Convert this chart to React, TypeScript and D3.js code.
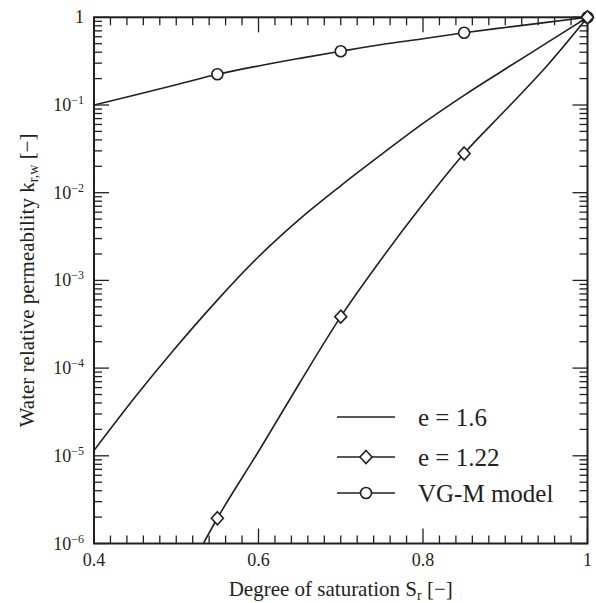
import React, { useRef, useEffect } from 'react';
import * as d3 from 'd3';

// degree of saturation S_r and read-off k_r,w values
const satE160 = [0.4, 0.45, 0.5, 0.55, 0.6, 0.65, 0.7, 0.75, 0.8, 0.85, 0.9, 0.95, 1.0];
const kE160 = [1.15e-5, 4.68e-5, 1.74e-4, 5.96e-4, 1.86e-3, 5.0e-3, 1.2e-2, 2.75e-2, 6.17e-2, 0.129, 0.257, 0.507, 1.0];

const satE122 = [0.53, 0.55, 0.6, 0.65, 0.7, 0.75, 0.8, 0.85, 0.9, 0.95, 1.0];
const kE122 = [8.9e-7, 1.94e-6, 1.12e-5, 6.76e-5, 3.86e-4, 1.78e-3, 7.41e-3, 0.028, 0.087, 0.275, 1.0];
const markE122 = [0.55, 0.7, 0.85, 1.0];

const satVGM = [0.4, 0.45, 0.5, 0.55, 0.6, 0.65, 0.7, 0.75, 0.8, 0.85, 0.9, 0.95, 1.0];
const kVGM = [0.1, 0.13, 0.17, 0.224, 0.279, 0.34, 0.41, 0.49, 0.57, 0.667, 0.766, 0.875, 1.0];
const markVGM = [0.55, 0.7, 0.85, 1.0];

const xTickLabels = ['0.4', '0.6', '0.8', '1'];
const yDecades = [-6, -5, -4, -3, -2, -1, 0];
const legendLabels = ['e = 1.6', 'e = 1.22', 'VG-M model'];

const FONT = '"Liberation Serif", "Times New Roman", serif';

const App = () => {
    const svgRef = useRef<SVGSVGElement>(null);

    useEffect(() => {
        const svg = d3.select(svgRef.current);
        svg.selectAll('*').remove();

        const left = 94, right = 587.5, top = 17.3, bottom = 543.5;
        const x = d3.scaleLinear().domain([0.4, 1]).range([left, right]);
        const y = d3.scaleLog().domain([1e-6, 1]).range([bottom, top]);

        svg.append('clipPath').attr('id', 'plotClip')
            .append('rect')
            .attr('x', left).attr('y', top)
            .attr('width', right - left).attr('height', bottom - top);

        // ticks, pointing inward on all four sides
        const ticks = svg.append('g').attr('stroke', '#231f20').attr('stroke-width', 1.3);
        d3.range(0, 31).forEach(i => {
            const v = 0.4 + i * 0.02;
            const len = i % 10 === 0 ? 15 : 8;
            ticks.append('line').attr('x1', x(v)).attr('x2', x(v)).attr('y1', bottom).attr('y2', bottom - len);
            ticks.append('line').attr('x1', x(v)).attr('x2', x(v)).attr('y1', top).attr('y2', top + len);
        });
        yDecades.forEach(d => {
            const base = Math.pow(10, d);
            ticks.append('line').attr('x1', left).attr('x2', left + 15).attr('y1', y(base)).attr('y2', y(base));
            ticks.append('line').attr('x1', right).attr('x2', right - 15).attr('y1', y(base)).attr('y2', y(base));
            if (d < 0) {
                d3.range(2, 10).forEach(k => {
                    const v = k * base;
                    ticks.append('line').attr('x1', left).attr('x2', left + 8).attr('y1', y(v)).attr('y2', y(v));
                    ticks.append('line').attr('x1', right).attr('x2', right - 8).attr('y1', y(v)).attr('y2', y(v));
                });
            }
        });

        // frame
        svg.append('rect')
            .attr('x', left).attr('y', top)
            .attr('width', right - left).attr('height', bottom - top)
            .attr('fill', 'none').attr('stroke', '#231f20').attr('stroke-width', 2);

        // tick labels
        xTickLabels.forEach(t => {
            svg.append('text')
                .attr('x', x(+t)).attr('y', 566)
                .attr('text-anchor', 'middle')
                .attr('font-family', FONT).attr('font-size', 18).attr('fill', '#231f20')
                .text(t);
        });
        yDecades.forEach(d => {
            const t = svg.append('text')
                .attr('x', 84).attr('y', y(Math.pow(10, d)) + 6)
                .attr('text-anchor', 'end')
                .attr('font-family', FONT).attr('font-size', 18).attr('fill', '#231f20');
            if (d === 0) {
                t.text('1');
            } else {
                t.append('tspan').text('10');
                t.append('tspan').attr('dy', -7).attr('font-size', 12).text(`\u2212${-d}`);
            }
        });

        // axis titles
        const xt = svg.append('text')
            .attr('x', (left + right) / 2).attr('y', 596)
            .attr('text-anchor', 'middle')
            .attr('font-family', FONT).attr('font-size', 21).attr('fill', '#231f20');
        xt.append('tspan').text('Degree of saturation S');
        xt.append('tspan').attr('font-size', 14).attr('dy', 4).text('r');
        xt.append('tspan').attr('dy', -4).text(' [\u2212]');

        const yt = svg.append('text')
            .attr('transform', `translate(34,${(top + bottom) / 2}) rotate(-90)`)
            .attr('text-anchor', 'middle')
            .attr('font-family', FONT).attr('font-size', 21).attr('fill', '#231f20');
        yt.append('tspan').text('Water relative permeability k');
        yt.append('tspan').attr('font-size', 14).attr('dy', 4).text('r,w');
        yt.append('tspan').attr('dy', -4).text(' [\u2212]');

        // curves
        const line = d3.line<[number, number]>()
            .x(d => x(d[0]))
            .y(d => y(d[1]))
            .curve(d3.curveMonotoneX);

        const curves = svg.append('g').attr('clip-path', 'url(#plotClip)')
            .attr('fill', 'none').attr('stroke', '#231f20').attr('stroke-width', 1.6);
        curves.append('path').attr('d', line(satE160.map((s, i) => [s, kE160[i]] as [number, number])));
        curves.append('path').attr('d', line(satE122.map((s, i) => [s, kE122[i]] as [number, number])));
        curves.append('path').attr('d', line(satVGM.map((s, i) => [s, kVGM[i]] as [number, number])));

        const diamond = (cx: number, cy: number, g: any) => {
            const p = d3.path();
            p.moveTo(cx, cy - 6.5);
            p.lineTo(cx + 6, cy);
            p.lineTo(cx, cy + 6.5);
            p.lineTo(cx - 6, cy);
            p.closePath();
            g.append('path').attr('d', p.toString())
                .attr('fill', 'white').attr('stroke', '#231f20').attr('stroke-width', 1.6);
        };
        const circle = (cx: number, cy: number, g: any) => {
            g.append('circle').attr('cx', cx).attr('cy', cy).attr('r', 5.5)
                .attr('fill', 'white').attr('stroke', '#231f20').attr('stroke-width', 1.6);
        };

        const marks = svg.append('g');
        const vgmLookup = new Map(satVGM.map((s, i) => [s, kVGM[i]]));
        const e122Lookup = new Map(satE122.map((s, i) => [s, kE122[i]]));
        markVGM.forEach(s => circle(x(s), y(vgmLookup.get(s)!), marks));
        markE122.forEach(s => diamond(x(s), y(e122Lookup.get(s)!), marks));

        // legend
        const legend = svg.append('g');
        const rows = [417, 457, 493];
        legendLabels.forEach((label, i) => {
            const ly = rows[i];
            legend.append('line').attr('x1', 337).attr('x2', 395).attr('y1', ly).attr('y2', ly)
                .attr('stroke', '#231f20').attr('stroke-width', 1.6);
            if (i === 1) diamond(366, ly, legend);
            if (i === 2) circle(366, ly, legend);
            legend.append('text')
                .attr('x', 418).attr('y', ly + 9)
                .attr('font-family', FONT).attr('font-size', 25).attr('fill', '#231f20')
                .text(label);
        });
    }, []);

    return (
        <svg ref={svgRef} width={596} height={603}
            style={{ position: 'absolute', left: 0, top: 0, background: 'white' }} />
    );
};

export default App;
